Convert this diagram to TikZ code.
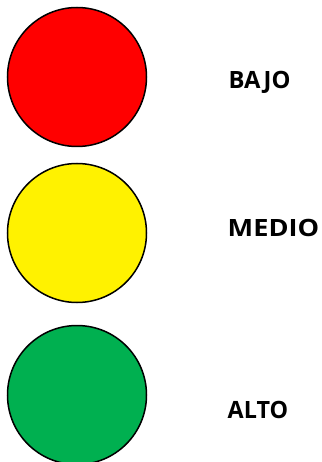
\documentclass[tikz,border=0pt]{standalone}
\usepackage{fontspec}
\setmainfont{Open Sans}
\definecolor{lgreen}{HTML}{00B050}
\begin{document}
\begin{tikzpicture}[x=1pt,y=-1pt,
  lamp/.style={circle,draw=black,line width=1.5pt,minimum size=139pt,inner sep=0pt},
  lbl/.style={anchor=base west,inner sep=0pt,font=\fontsize{23.8}{28}\selectfont\bfseries}]
\useasboundingbox (0,0) rectangle (321,462);
\begin{scope}
\clip (0,0) rectangle (321,462);
\node[lamp,fill=red] (r) at (77,77) {};
\node[lamp,fill=yellow] (y) at (77,233) {};
\node[lamp,fill=lgreen] (g) at (77,395) {};
\node[lbl] (t1) at (228.5,88.3) {BAJO};
\node[lbl,xscale=1.14] (t2) at (227.5,236) {MEDIO};
\node[lbl,xscale=0.98] (t3) at (227.5,418.3) {ALTO};
\end{scope}
\end{tikzpicture}
\end{document}
